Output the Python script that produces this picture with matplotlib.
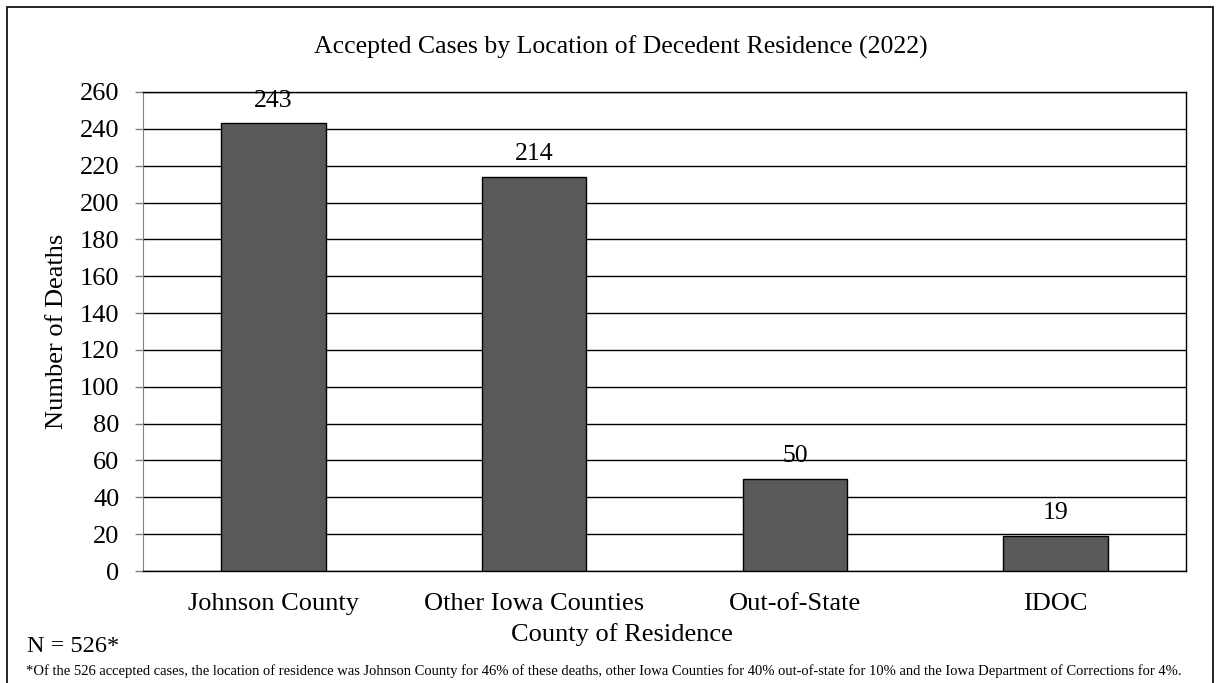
import matplotlib
matplotlib.use("Agg")
import matplotlib.pyplot as plt
from matplotlib.patches import Rectangle

categories = ["Johnson County", "Other Iowa Counties", "Out-of-State", "IDOC"]
values = [243, 214, 50, 19]
yticks = list(range(0, 261, 20))
title = "Accepted Cases by Location of Decedent Residence (2022)"
xlabel = "County of Residence"
ylabel = "Number of Deaths"
ntext = "N = 526*"
footnote = ("*Of the 526 accepted cases, the location of residence was Johnson County for 46% of these deaths, "
            "other Iowa Counties for 40% out-of-state for 10% and the Iowa Department of Corrections for 4%.")

plt.rcParams['font.family'] = ['Liberation Serif', 'DejaVu Serif']

W, H = 1216, 683
fig = plt.figure(figsize=(W/100, H/100), dpi=100)
ax = fig.add_axes([143/W, 1-571/H, (1186-143)/W, (571-92)/H])

x = list(range(len(categories)))
ax.bar(x, values, width=0.4, color="#595959", edgecolor="black", linewidth=1, zorder=3)
ax.set_xlim(-0.5, len(categories)-0.5)
ax.set_ylim(0, 260)
ax.set_yticks(yticks)
ax.yaxis.grid(True, color="black", linewidth=1, zorder=0)
ax.set_xticks(x)
ax.set_xticklabels(categories, fontsize=19)
ax.tick_params(axis='x', length=0, pad=15.5)
ax.tick_params(axis='y', labelsize=19, length=6, color="#808080", width=1, pad=11)
for s in ['top', 'right', 'bottom']:
    ax.spines[s].set_color("black")
    ax.spines[s].set_linewidth(1)
ax.spines['left'].set_color("#808080")

for xi, v in zip(x, values):
    ax.annotate(str(v), (xi, v), xytext=(0, 12), textcoords='offset points',
                ha='center', va='baseline', fontsize=18.5)

fig.text(57/W, 1-331/H, ylabel, ha='center', va='center', rotation=90, fontsize=19)
fig.text(622/W, 1-635/H, xlabel, ha='center', va='center', fontsize=19)
fig.text(621/W, 1-47/H, title, ha='center', va='center', fontsize=18.5)
fig.text(27/W, 1-647/H, ntext, ha='left', va='center', fontsize=17.5)

# footnote sized to span the figure width
renderer = fig.canvas.get_renderer()
fn = fig.text(26/W, 1-675/H, footnote, ha='left', va='baseline', fontsize=10.5)
wd = fn.get_window_extent(renderer).width
fn.set_fontsize(10.5 * (1182 - 26) / wd)

fig.patches.append(Rectangle((7/W, -0.01), (1213-7)/W, 1-7/H+0.01, transform=fig.transFigure,
                             fill=False, edgecolor="black", linewidth=1.2))

fig.savefig("out.png", dpi=100)
